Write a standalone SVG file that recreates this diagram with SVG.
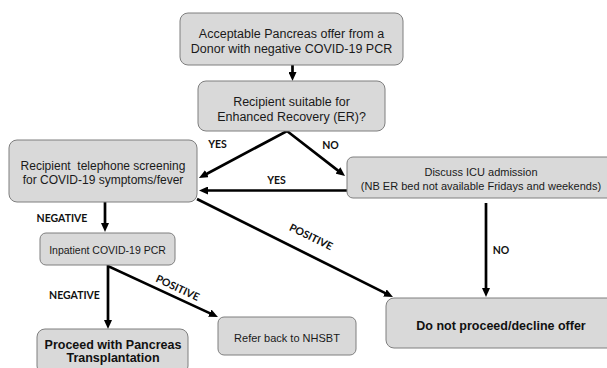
<svg xmlns="http://www.w3.org/2000/svg" width="607" height="368" viewBox="0 0 607 368">
<style>
.box{fill:#d9d9d9;stroke:#7f7f7f;stroke-width:1}
.t{font-family:"Liberation Sans",Arial,sans-serif;fill:#1a1a1a;text-anchor:middle}
.b{font-weight:bold;fill:#111}
.lbl{font-family:Lato,"Open Sans",sans-serif;font-weight:bold;font-size:10.5px;fill:#111;text-anchor:middle}
.c{fill:none;stroke:#000;stroke-width:2.7}
</style>
<defs>
<marker id="ah" markerUnits="userSpaceOnUse" markerWidth="9" markerHeight="8" refX="1" refY="4" orient="auto-start-reverse">
<path d="M0,0 L9,4 L0,8 z" fill="#000"/>
</marker>
</defs>
<rect width="607" height="368" fill="#fff"/>
<g id="connectors">
<path class="c" d="M292.5,65 L292.5,73" marker-end="url(#ah)"/>
<path class="c" d="M206,174.2 L287,131 L338.7,171.1" marker-start="url(#ah)" marker-end="url(#ah)"/>
<path class="c" d="M347,190.5 L207,190.5" marker-end="url(#ah)"/>
<path class="c" d="M105,202 L105,224" marker-end="url(#ah)"/>
<path class="c" d="M197,199 L385.8,293.4" marker-end="url(#ah)"/>
<path class="c" d="M108,321 L108,266 L210.7,313.6" marker-start="url(#ah)" marker-end="url(#ah)"/>
<path class="c" d="M486,203 L486,289" marker-end="url(#ah)"/>
<text class="lbl" x="217.5" y="147.5">YES</text>
<text class="lbl" x="330.5" y="149">NO</text>
<text class="lbl" x="276.5" y="183.5">YES</text>
<text class="lbl" x="62" y="221.5">NEGATIVE</text>
<text class="lbl" x="501" y="253.5">NO</text>
<text class="lbl" x="74.5" y="298.5">NEGATIVE</text>
<text class="lbl" transform="translate(311,237) rotate(26)" y="3.5">POSITIVE</text>
<text class="lbl" transform="translate(177.5,288) rotate(25)" y="3.5">POSITIVE</text>
</g>
<g id="offer">
<rect class="box" x="180" y="13" width="223" height="52" rx="8"/>
<text class="t" font-size="12.5" x="291.5" y="37.5">Acceptable Pancreas offer from a</text>
<text class="t" font-size="12.5" x="291.5" y="52.5">Donor with negative COVID-19 PCR</text>
</g>
<g id="suitable">
<rect class="box" x="198" y="81" width="187" height="50" rx="8"/>
<text class="t" font-size="12.5" x="291.5" y="106">Recipient suitable for</text>
<text class="t" font-size="12.5" x="291.5" y="120.5">Enhanced Recovery (ER)?</text>
</g>
<g id="screening">
<rect class="box" x="9" y="140" width="188" height="62" rx="8"/>
<text class="t" font-size="12" x="103" y="169.5" xml:space="preserve">Recipient  telephone screening</text>
<text class="t" font-size="12" x="103" y="183.5">for COVID-19 symptoms/fever</text>
</g>
<g id="icu">
<rect class="box" x="347" y="157" width="270" height="41" rx="6"/>
<text class="t" font-size="11" x="481" y="175.5">Discuss ICU admission</text>
<text class="t" font-size="11" x="481" y="189.5">(NB ER bed not available Fridays and weekends)</text>
</g>
<g id="pcr">
<rect class="box" x="40" y="233" width="135" height="32" rx="6"/>
<text class="t" font-size="10.5" x="107.5" y="254">Inpatient COVID-19 PCR</text>
</g>
<g id="decline">
<rect class="box" x="386" y="298" width="230" height="50" rx="8"/>
<text class="t b" font-size="12.5" x="501" y="329.5">Do not proceed/decline offer</text>
</g>
<g id="proceed">
<rect class="box" x="37" y="329" width="151" height="45" rx="8"/>
<text class="t b" font-size="12.5" x="113" y="348.5">Proceed with Pancreas</text>
<text class="t b" font-size="12.5" x="113" y="362">Transplantation</text>
</g>
<g id="refer">
<rect class="box" x="218" y="317" width="138" height="38" rx="6"/>
<text class="t" font-size="11" x="287" y="341.5">Refer back to NHSBT</text>
</g>
</svg>
